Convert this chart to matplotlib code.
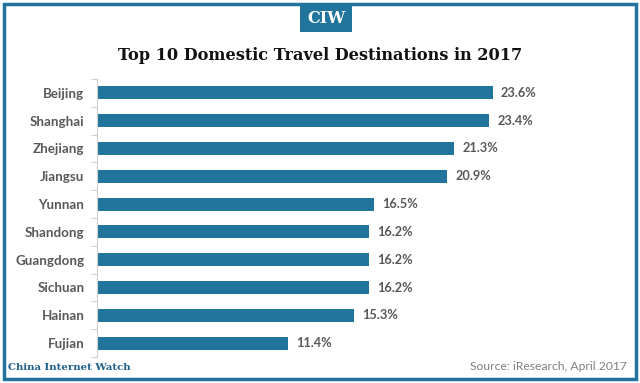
import matplotlib
matplotlib.use("Agg")
import matplotlib.pyplot as plt
from matplotlib.patches import Rectangle
import numpy as np

categories = ["Beijing", "Shanghai", "Zhejiang", "Jiangsu", "Yunnan",
              "Shandong", "Guangdong", "Sichuan", "Hainan", "Fujian"]
values = [23.6, 23.4, 21.3, 20.9, 16.5, 16.2, 16.2, 16.2, 15.3, 11.4]
value_labels = ["23.6%", "23.4%", "21.3%", "20.9%", "16.5%",
                "16.2%", "16.2%", "16.2%", "15.3%", "11.4%"]

BLUE = "#21749c"
GRAY = "#595959"

fig = plt.figure(figsize=(6.4, 3.83), dpi=100)
W, H = 640, 383

def fx(px):
    return px / W
def fy(py):
    return 1 - py / H

# outer border
fig.patches.append(Rectangle((fx(4), fy(379)), fx(632), 375 / H, transform=fig.transFigure,
                             fill=False, edgecolor=BLUE, linewidth=2.5))
# CIW box
fig.patches.append(Rectangle((fx(300), fy(32)), fx(52), 28 / H, transform=fig.transFigure,
                             facecolor=BLUE, edgecolor="none"))
fig.text(fx(326), fy(18.5), "CIW", ha="center", va="center", color="white",
         fontsize=11.5, fontweight="bold", family="DejaVu Serif")
fig.text(fx(320), fy(56), "Top 10 Domestic Travel Destinations in 2017", ha="center",
         va="center", color="#111111", fontsize=11.6, fontweight="bold", family="DejaVu Serif")

ax = fig.add_axes([fx(97), fy(357), fx(513), 278 / H])
y = np.arange(len(categories))
ax.barh(y, values, height=0.47, color=BLUE, edgecolor="none")
ax.set_xlim(0, 30.6)
ax.set_ylim(len(categories) - 0.5, -0.5)
ax.set_yticks(y)
ax.set_yticklabels(categories, fontsize=9.6, fontweight="bold", color=GRAY, family="Lato")
ax.set_yticks(np.arange(len(categories) + 1) - 0.5, minor=True)
ax.tick_params(axis="y", which="major", length=0, pad=9)
ax.tick_params(axis="y", which="minor", length=4, color="#d0d0d0", width=0.8)
ax.set_xticks([])
for s in ["top", "right", "bottom"]:
    ax.spines[s].set_visible(False)
ax.spines["left"].set_color("#d0d0d0")
ax.spines["left"].set_linewidth(0.8)
for yi, v, lab in zip(y, values, value_labels):
    ax.text(v + 0.5, yi, lab, va="center", ha="left", fontsize=9.2,
            fontweight="bold", color=GRAY, family="Lato")

fig.text(fx(8), fy(367), "China Internet Watch", ha="left", va="center", color="#1f5f8b",
         fontsize=7.3, fontweight="bold", family="DejaVu Serif")
fig.text(fx(627), fy(367), "Source: iResearch, April 2017", ha="right", va="center",
         color="#7f7f7f", fontsize=8.7, family="Lato")

fig.savefig("out.png", dpi=100)
